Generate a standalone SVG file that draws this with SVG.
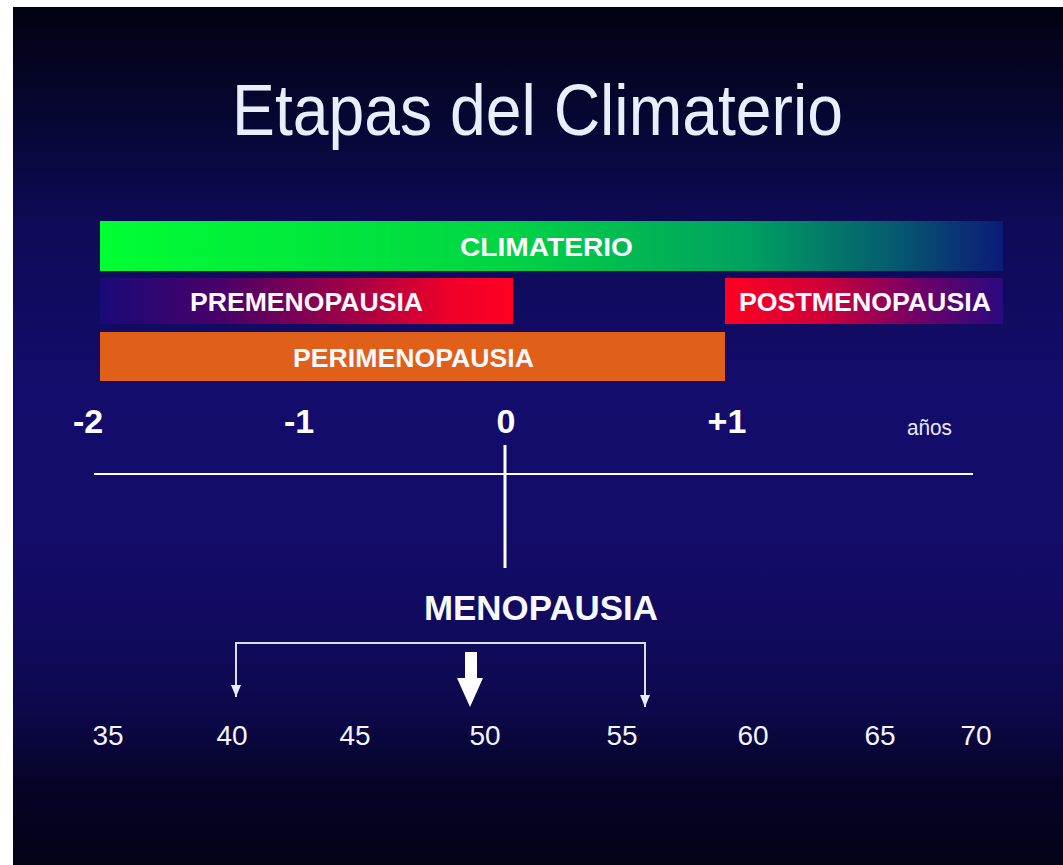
<svg xmlns="http://www.w3.org/2000/svg" width="1063" height="865" viewBox="0 0 1063 865">
  <defs>
    <linearGradient id="bg" x1="0" y1="0" x2="0" y2="1">
      <stop offset="0" stop-color="#020212"/>
      <stop offset="0.12" stop-color="#060630"/>
      <stop offset="0.25" stop-color="#0e0a55"/>
      <stop offset="0.45" stop-color="#140c6c"/>
      <stop offset="0.6" stop-color="#140c6a"/>
      <stop offset="0.75" stop-color="#100a5a"/>
      <stop offset="0.83" stop-color="#0c0848"/>
      <stop offset="0.9" stop-color="#050428"/>
      <stop offset="1" stop-color="#030218"/>
    </linearGradient>
    <linearGradient id="gClim" x1="0" y1="0" x2="1" y2="0">
      <stop offset="0" stop-color="#00ff33"/>
      <stop offset="0.45" stop-color="#00d444"/>
      <stop offset="0.72" stop-color="#00a060"/>
      <stop offset="0.88" stop-color="#055a70"/>
      <stop offset="1" stop-color="#0c1a78"/>
    </linearGradient>
    <linearGradient id="gPre" x1="0" y1="0" x2="1" y2="0">
      <stop offset="0" stop-color="#1a0a78"/>
      <stop offset="0.3" stop-color="#4a0068"/>
      <stop offset="0.6" stop-color="#a00048"/>
      <stop offset="0.85" stop-color="#f00028"/>
      <stop offset="1" stop-color="#ff0022"/>
    </linearGradient>
    <linearGradient id="gPost" x1="0" y1="0" x2="1" y2="0">
      <stop offset="0" stop-color="#ff0022"/>
      <stop offset="0.35" stop-color="#d00038"/>
      <stop offset="0.7" stop-color="#700068"/>
      <stop offset="1" stop-color="#2a0a80"/>
    </linearGradient>
    <marker id="ah" viewBox="0 0 12 10" refX="12" refY="5" markerWidth="12" markerHeight="10" markerUnits="userSpaceOnUse" orient="auto-start-reverse">
      <path d="M0,0 L12,5 L0,10 Z" fill="#e8ecff"/>
    </marker>
    <style>
      .bar { font-family: "Liberation Sans", Arial, sans-serif; font-weight: bold; font-size: 26px; fill: #fbf8ff; }
      .ax { font-family: "Liberation Sans", Arial, sans-serif; font-weight: bold; font-size: 34px; fill: #ffffff; text-anchor: middle; }
      .num { font-family: "Liberation Sans", Arial, sans-serif; font-size: 28px; fill: #f4f4ff; text-anchor: middle; }
      .ln { stroke: #ffffff; fill: none; }
      .thin { stroke: #dcdcf4; stroke-width: 2; fill: none; }
    </style>
  </defs>

  <rect x="0" y="0" width="1063" height="865" fill="#ffffff"/>
  <rect x="13" y="7" width="1050" height="858" fill="url(#bg)"/>

  <g id="title">
    <text x="232" y="135" font-family="'Liberation Sans', Arial, sans-serif" font-size="72" fill="#e8eefa" textLength="611" lengthAdjust="spacingAndGlyphs">Etapas del Climaterio</text>
  </g>

  <g id="climaterio">
    <rect x="100" y="221" width="903" height="50" fill="url(#gClim)"/>
    <text class="bar" x="460" y="256" textLength="173" lengthAdjust="spacingAndGlyphs">CLIMATERIO</text>
  </g>
  <g id="premenopausia">
    <rect x="100" y="278" width="413" height="46" fill="url(#gPre)"/>
    <text class="bar" x="190" y="311" textLength="233" lengthAdjust="spacingAndGlyphs">PREMENOPAUSIA</text>
  </g>
  <g id="postmenopausia">
    <rect x="725" y="278" width="278" height="46" fill="url(#gPost)"/>
    <text class="bar" x="739" y="311" textLength="252" lengthAdjust="spacingAndGlyphs">POSTMENOPAUSIA</text>
  </g>
  <g id="perimenopausia">
    <rect x="100" y="332" width="625" height="49" fill="#e0601a"/>
    <text class="bar" x="293" y="367" textLength="241" lengthAdjust="spacingAndGlyphs">PERIMENOPAUSIA</text>
  </g>

  <g id="axis-labels">
    <text class="ax" x="88" y="433">-2</text>
    <text class="ax" x="299" y="433">-1</text>
    <text class="ax" x="506" y="433">0</text>
    <text class="ax" x="727" y="433">+1</text>
    <text x="907" y="435" font-family="'Liberation Sans', Arial, sans-serif" font-size="22" fill="#e8e8f8" textLength="45" lengthAdjust="spacingAndGlyphs">años</text>
  </g>

  <g id="menopausia">
    <text x="424" y="620" font-family="'Liberation Sans', Arial, sans-serif" font-weight="bold" font-size="35" fill="#f8f8ff" textLength="234" lengthAdjust="spacingAndGlyphs">MENOPAUSIA</text>
  </g>

  <g id="ages">
    <text class="num" x="108" y="745">35</text>
    <text class="num" x="232" y="745">40</text>
    <text class="num" x="355" y="745">45</text>
    <text class="num" x="485" y="745">50</text>
    <text class="num" x="622" y="745">55</text>
    <text class="num" x="753" y="745">60</text>
    <text class="num" x="880" y="745">65</text>
    <text class="num" x="976" y="745">70</text>
  </g>

  <g id="connectors">
    <line class="ln" x1="94" y1="474" x2="973" y2="474" stroke-width="2"/>
    <line class="ln" x1="505" y1="445" x2="505" y2="568" stroke-width="3"/>
    <path class="thin" d="M236,697 L236,643 L645,643 L645,707" marker-start="url(#ah)" marker-end="url(#ah)"/>
    <path d="M465,652 L477,652 L477,678 L483,678 L470,707 L457,678 L465,678 Z" fill="#ffffff"/>
  </g>
</svg>
